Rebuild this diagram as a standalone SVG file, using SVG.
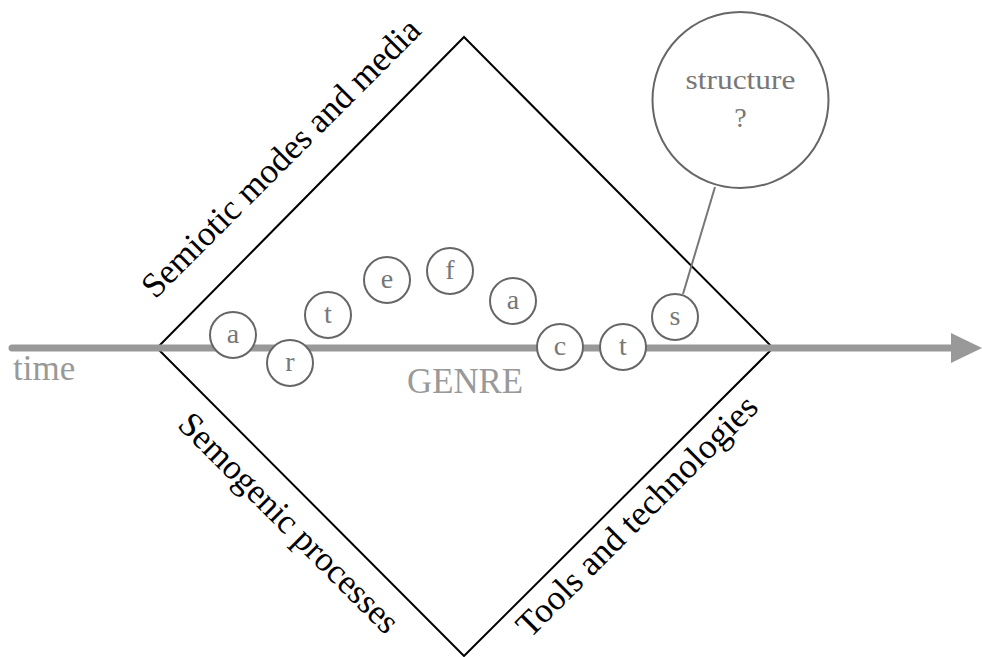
<svg xmlns="http://www.w3.org/2000/svg" width="982" height="657" viewBox="0 0 982 657">
  <style>
    .label { font-family: 'Liberation Serif', 'DejaVu Serif', serif; font-size: 35px; fill: #000; }
    .axis-text { font-family: 'Liberation Serif', 'DejaVu Serif', serif; font-size: 35px; fill: #999; }
    .node circle { fill: #fff; stroke: #666; stroke-width: 2; }
    .node text { font-family: 'Liberation Serif', 'DejaVu Serif', serif; font-size: 28px; fill: #777; text-anchor: middle; }
    .edge { stroke: #777; stroke-width: 2; fill: none; }
  </style>

  <!-- genre diamond -->
  <g id="diamond">
    <polygon points="464,37 157,348 464,656 773,348" fill="none" stroke="#000" stroke-width="2"/>
  </g>

  <!-- side labels -->
  <g id="labels">
    <text class="label" text-anchor="middle" textLength="378" lengthAdjust="spacingAndGlyphs" transform="translate(289,166) rotate(-45)">Semiotic modes and media</text>
    <text class="label" text-anchor="middle" textLength="296" lengthAdjust="spacingAndGlyphs" transform="translate(281,531) rotate(45)">Semogenic processes</text>
    <text class="label" text-anchor="middle" textLength="325" lengthAdjust="spacingAndGlyphs" transform="translate(645,524) rotate(-45)">Tools and technologies</text>
  </g>

  <!-- time axis -->
  <g id="time-axis">
    <line x1="12" y1="348" x2="952" y2="348" stroke="#999" stroke-width="7" stroke-linecap="round"/>
    <polygon points="951,333 982,348 951,363" fill="#999"/>
    <text class="axis-text" x="13" y="380">time</text>
    <text class="axis-text" x="407" y="393" textLength="116" lengthAdjust="spacingAndGlyphs">GENRE</text>
  </g>

  <!-- connectors -->
  <g id="connectors">
    <line class="edge" x1="683" y1="294" x2="715" y2="187"/>
  </g>

  <!-- letter nodes along the time line -->
  <g id="n-a1" class="node"><circle cx="233" cy="335" r="23"/><text x="233" y="343">a</text></g>
  <g id="n-r" class="node"><circle cx="290" cy="363" r="23"/><text x="290" y="371">r</text></g>
  <g id="n-t1" class="node"><circle cx="328" cy="315" r="23"/><text x="328" y="323">t</text></g>
  <g id="n-e" class="node"><circle cx="387" cy="280" r="23"/><text x="387" y="288">e</text></g>
  <g id="n-f" class="node"><circle cx="450" cy="271" r="23"/><text x="450" y="279">f</text></g>
  <g id="n-a2" class="node"><circle cx="513" cy="301" r="23"/><text x="513" y="309">a</text></g>
  <g id="n-c" class="node"><circle cx="560" cy="347" r="23"/><text x="560" y="355">c</text></g>
  <g id="n-t2" class="node"><circle cx="623" cy="347" r="23"/><text x="623" y="355">t</text></g>
  <g id="n-s" class="node"><circle cx="675" cy="317" r="23"/><text x="675" y="325">s</text></g>

  <!-- structure bubble -->
  <g id="n-structure" class="node">
    <circle cx="740.5" cy="100" r="88"/>
    <text x="740.5" y="89" textLength="110" lengthAdjust="spacingAndGlyphs">structure</text>
    <text x="740.5" y="127">?</text>
  </g>
</svg>
